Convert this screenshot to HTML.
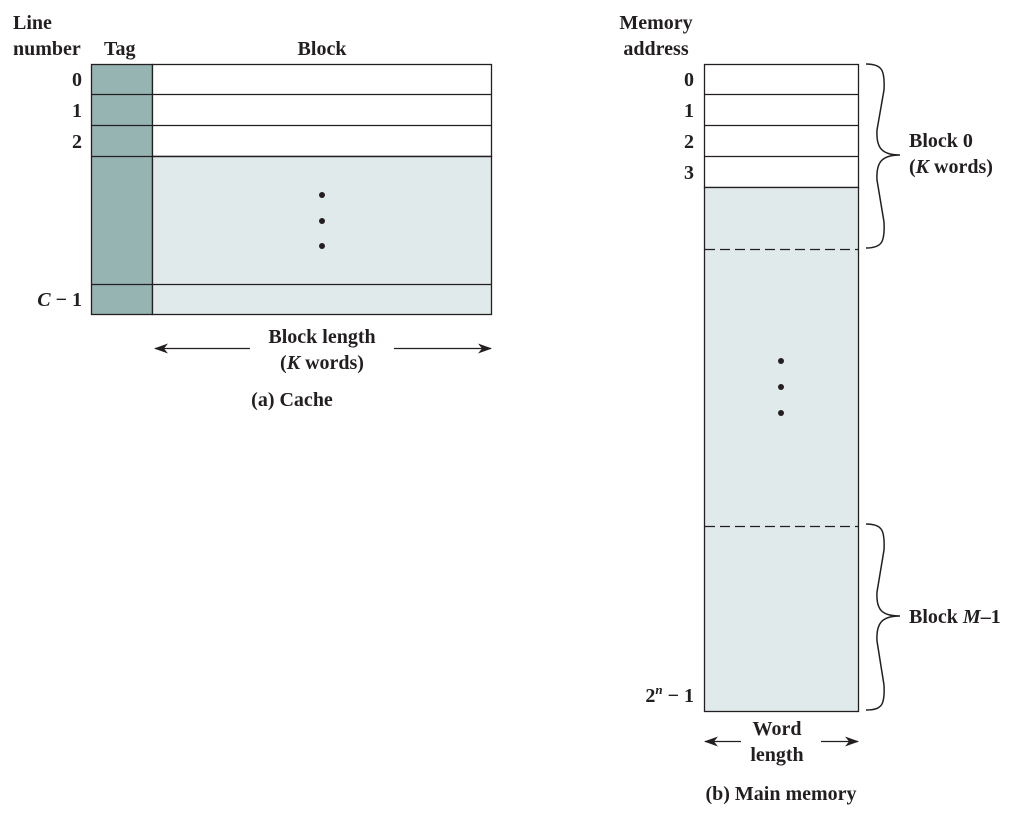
<!DOCTYPE html>
<html><head><meta charset="utf-8"><style>
body{margin:0;background:#fff;}
svg text{font-family:"Liberation Serif",serif;font-weight:bold;font-size:20px;fill:#231f20;}
</style></head><body>
<svg width="1019" height="810" viewBox="0 0 1019 810" xmlns="http://www.w3.org/2000/svg">
<defs>
<marker id="ah" markerWidth="14" markerHeight="10" refX="13" refY="5" orient="auto" markerUnits="userSpaceOnUse">
<path d="M0,0 L14,5 L0,10 L4,5 Z" fill="#231f20"/>
</marker>
</defs>
<!-- Cache -->
<rect x="91.5" y="64.5" width="61" height="250" fill="#95b4b2" stroke="#231f20" stroke-width="1.3"/>
<rect x="152.5" y="64.5" width="339" height="92" fill="#fff" stroke="#231f20" stroke-width="1.3"/>
<rect x="152.5" y="156.5" width="339" height="158" fill="#e0eaea" stroke="#231f20" stroke-width="1.3"/>
<g stroke="#231f20" stroke-width="1.3">
<line x1="91" y1="94.5" x2="491" y2="94.5"/>
<line x1="91" y1="125.5" x2="491" y2="125.5"/>
<line x1="91" y1="156.5" x2="491" y2="156.5"/>
<line x1="91" y1="284.5" x2="491" y2="284.5"/>
</g>
<circle cx="322" cy="195" r="3" fill="#231f20"/>
<circle cx="322" cy="221" r="3" fill="#231f20"/>
<circle cx="322" cy="246" r="3" fill="#231f20"/>
<text x="13" y="29">Line</text>
<text x="13" y="55">number</text>
<text x="104" y="55">Tag</text>
<text x="322" y="55" text-anchor="middle">Block</text>
<text x="82" y="86" text-anchor="end">0</text>
<text x="82" y="117" text-anchor="end">1</text>
<text x="82" y="148" text-anchor="end">2</text>
<text x="82" y="306" text-anchor="end"><tspan font-style="italic">C</tspan> − 1</text>
<line x1="250" y1="348.5" x2="155" y2="348.5" stroke="#231f20" stroke-width="1.3" marker-end="url(#ah)"/>
<line x1="394" y1="348.5" x2="491" y2="348.5" stroke="#231f20" stroke-width="1.3" marker-end="url(#ah)"/>
<text x="322" y="343" text-anchor="middle">Block length</text>
<text x="322" y="369" text-anchor="middle">(<tspan font-style="italic">K</tspan> words)</text>
<text x="292" y="406" text-anchor="middle">(a) Cache</text>
<!-- Memory -->
<rect x="704.5" y="64.5" width="154" height="123" fill="#fff" stroke="#231f20" stroke-width="1.3"/>
<rect x="704.5" y="187.5" width="154" height="524" fill="#e0eaea" stroke="#231f20" stroke-width="1.3"/>
<g stroke="#231f20" stroke-width="1.3">
<line x1="704" y1="94.5" x2="858" y2="94.5"/>
<line x1="704" y1="125.5" x2="858" y2="125.5"/>
<line x1="704" y1="156.5" x2="858" y2="156.5"/>
<line x1="705" y1="249.5" x2="858" y2="249.5" stroke-dasharray="10,5"/>
<line x1="705" y1="526.5" x2="858" y2="526.5" stroke-dasharray="10,5"/>
</g>
<circle cx="781" cy="361" r="3" fill="#231f20"/>
<circle cx="781" cy="387" r="3" fill="#231f20"/>
<circle cx="781" cy="413" r="3" fill="#231f20"/>
<text x="656" y="29" text-anchor="middle">Memory</text>
<text x="656" y="55" text-anchor="middle">address</text>
<text x="694" y="86" text-anchor="end">0</text>
<text x="694" y="117" text-anchor="end">1</text>
<text x="694" y="148" text-anchor="end">2</text>
<text x="694" y="179" text-anchor="end">3</text>
<text x="694" y="702" text-anchor="end">2<tspan font-style="italic" font-size="13" dy="-8">n</tspan><tspan dy="8"> − 1</tspan></text>
<path d="M866,64 C882,64 885,70 884,90 L877,130 C876,148 882,155 900,155 C882,155 876,162 877,180 L884,222 C885,242 882,248 866,248" fill="none" stroke="#231f20" stroke-width="1.5"/>
<path d="M866,524 C882,524 885,530 884,550 L877,592 C876,610 882,616 900,616 C882,616 876,623 877,641 L884,685 C885,705 882,710 866,710" fill="none" stroke="#231f20" stroke-width="1.5"/>
<text x="909" y="147">Block 0</text>
<text x="909" y="173">(<tspan font-style="italic">K</tspan> words)</text>
<text x="909" y="623">Block <tspan font-style="italic">M</tspan>–1</text>
<line x1="741" y1="741.5" x2="705" y2="741.5" stroke="#231f20" stroke-width="1.3" marker-end="url(#ah)"/>
<line x1="821" y1="741.5" x2="858" y2="741.5" stroke="#231f20" stroke-width="1.3" marker-end="url(#ah)"/>
<text x="777" y="735" text-anchor="middle">Word</text>
<text x="777" y="761" text-anchor="middle">length</text>
<text x="781" y="800" text-anchor="middle">(b) Main memory</text>
</svg>
</body></html>
